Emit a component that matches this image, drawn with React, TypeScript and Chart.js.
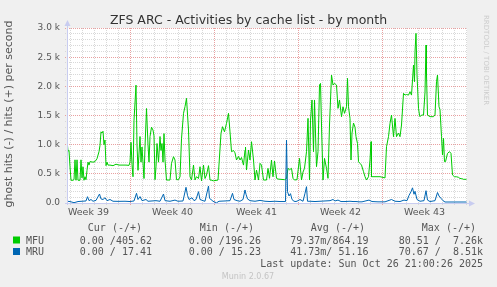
import React, { useEffect, useRef } from 'react';
import { Chart, registerables } from 'chart.js';

Chart.register(...registerables);

// ---------- data (x = hours since start of graph, 800 h span) ----------
const mfuHours = [0,2,4,6,8,12,14,16,18,20,22,26,28,30,32,34,36,38,40,42,44,46,52,56,60,64,66,68,70,72,74,76,78,80,82,86,92,98,104,110,118,124,126,128,130,132,134,138,140,142,146,148,150,154,156,159,162,164,166,169,172,174,176,178,180,183,186,188,190,192,194,196,199,206,209,213,216,219,223,226,229,233,236,239,243,246,249,253,256,259,263,266,269,273,276,279,283,286,289,293,302,308,311,315,319,323,326,329,333,336,339,343,346,349,353,356,357,359,363,366,369,373,376,379,383,386,389,393,399,402,405,409,412,415,419,422,435,439,442,445,449,452,455,460,465,469,472,475,479,482,485,487,490,493,495,499,502,505,507,509,512,515,519,522,525,529,532,535,539,542,545,549,552,555,559,561,563,566,568,570,573,576,578,581,583,586,589,593,596,599,603,606,608,609,616,626,636,639,643,646,649,653,656,659,663,666,669,673,676,679,683,686,689,693,695,696,698,700,703,705,706,709,713,716,718,719,721,726,733,736,739,741,744,746,749,751,753,755,757,761,765,768,771,775,779,783,786,789,793,799];
const mfuValues = [1080,890,900,620,390,390,400,740,390,740,390,390,740,430,620,390,450,400,560,700,650,710,700,710,760,880,990,1220,1200,1230,1000,1080,640,700,650,650,640,665,650,650,650,645,700,1040,660,450,1420,2020,1000,560,1140,700,960,420,960,1620,1000,700,1140,1300,1250,1150,400,620,1020,700,1140,900,1020,700,1190,737,394,394,680,794,737,400,400,450,1100,1537,1651,1794,1251,451,394,650,394,451,420,622,380,650,420,480,640,394,390,380,394,1194,1308,1220,1365,1537,1220,880,900,860,737,800,737,780,650,908,960,565,908,737,1051,737,394,565,394,680,650,394,394,594,423,737,450,720,423,410,400,420,595,570,595,423,394,400,765,394,530,595,880,1451,394,1420,1766,880,1766,622,880,2022,2050,1337,394,765,594,423,1337,2194,2022,2051,2022,1622,1766,1480,1650,1537,1650,2137,1650,1450,737,1200,1370,1300,1137,1020,708,680,650,537,451,394,451,737,1051,451,451,451,430,965,1137,1365,1508,1137,1450,1137,1200,1137,1337,1880,1850,1860,1850,1908,1850,2365,2080,2594,2908,2200,1623,1508,1480,1508,1508,1900,2708,2200,1508,1480,1480,1508,2080,2194,1650,1600,1137,822,1108,708,708,850,880,850,480,450,450,440,420,420,406,406];

const mruHours = [0,6,14,22,30,38,41,44,48,52,58,65,68,72,76,80,86,92,102,116,126,134,139,142,146,150,158,162,170,178,186,193,196,206,216,222,232,238,241,244,250,254,258,263,266,272,276,283,285,288,292,299,304,316,326,331,334,340,346,352,356,358,361,366,376,386,396,406,416,426,437,439,441,444,447,450,454,458,462,466,472,476,479,481,486,496,506,516,526,532,536,542,548,556,566,572,578,584,590,604,610,622,636,649,656,666,674,680,684,688,691,694,696,700,706,714,718,721,726,736,741,744,748,752,756,799];
const mruValues = [30,25,5,25,30,35,108,40,60,30,45,154,70,60,90,40,60,30,28,30,25,35,166,60,110,40,60,30,35,40,30,154,40,30,50,30,35,269,130,60,90,40,60,194,60,40,30,291,80,60,30,3,30,35,40,166,60,40,30,60,223,150,70,40,30,45,30,25,30,25,25,1080,194,120,160,60,30,25,40,60,30,166,280,30,30,25,30,35,40,60,35,50,25,25,30,25,25,20,20,50,25,20,20,60,30,25,50,40,130,194,260,150,200,60,30,40,211,50,25,40,180,120,80,40,17,17];

const weekTickHours = [43, 211, 379, 547, 715];
const weekLabels = ['Week 39', 'Week 40', 'Week 41', 'Week 42', 'Week 43'];
const weekStartHours = [127, 295, 463, 631];
const yTickValues = [0, 500, 1000, 1500, 2000, 2500, 3000];

const seriesNames = ['MFU', 'MRU'];
const seriesColors = ['#00cc00', '#0066b3'];
const legendHeaders = ['Cur (-/+)', 'Min (-/+)', 'Avg (-/+)', 'Max (-/+)'];
const legendRows = [
  ['0.00 /405.62', '0.00 /196.26', '79.37m/864.19', '80.51 /  7.26k'],
  ['0.00 / 17.41', '0.00 / 15.23', '41.73m/ 51.16', '70.67 /  8.51k'],
];
const titleText = 'ZFS ARC - Activities by cache list - by month';
const yTitle = 'ghost hits (-) / hits (+) per second';
const lastUpdate = 'Last update: Sun Oct 26 21:00:26 2025';
const footer = 'Munin 2.0.67';
const watermark = 'RRDTOOL / TOBI OETIKER';

const SANS = '"DejaVu Sans", sans-serif';
const MONO = '"DejaVu Sans Mono", monospace';

const muninPlugin = {
  id: 'munin',
  beforeDraw(chart: any) {
    const { ctx, chartArea: a } = chart;
    ctx.save();
    ctx.fillStyle = '#f0f0f0';
    ctx.fillRect(0, 0, chart.width, chart.height);
    ctx.fillStyle = '#ffffff';
    ctx.fillRect(a.left, a.top, a.right - a.left, a.bottom - a.top);
    ctx.restore();
  },
  beforeDatasetsDraw(chart: any) {
    const { ctx, chartArea: a, scales } = chart;
    const x = scales.x, y = scales.y;
    ctx.save();
    ctx.lineWidth = 1;
    const hline = (v: number, color: string) => {
      const py = Math.floor(y.getPixelForValue(v)) + 0.5;
      ctx.strokeStyle = color;
      ctx.setLineDash([1, 1]);
      ctx.beginPath();
      ctx.moveTo(a.left - 2, py);
      ctx.lineTo(a.right, py);
      ctx.stroke();
    };
    const vline = (v: number, color: string) => {
      const px = Math.floor(x.getPixelForValue(v)) + 0.5;
      ctx.strokeStyle = color;
      ctx.setLineDash([1, 1]);
      ctx.beginPath();
      ctx.moveTo(px, a.top);
      ctx.lineTo(px, a.bottom + 2);
      ctx.stroke();
    };
    for (let v = 100; v < 3000; v += 100) if (v % 500 !== 0) hline(v, '#d8d8d8');
    for (let h = 7; h < 800; h += 24) if (!weekStartHours.includes(h)) vline(h, '#d8d8d8');
    yTickValues.forEach(v => { if (v > 0) hline(v, '#e8a0a0'); });
    weekStartHours.forEach(h => vline(h, '#e8a0a0'));
    ctx.restore();
  },
  afterDatasetsDraw(chart: any) {
    const { ctx, chartArea: a } = chart;
    ctx.save();
    ctx.strokeStyle = '#c8ccf0';
    ctx.fillStyle = '#c8ccf0';
    ctx.lineWidth = 1;
    ctx.setLineDash([]);
    ctx.beginPath();
    ctx.moveTo(a.left + 0.5, a.bottom + 2);
    ctx.lineTo(a.left + 0.5, a.top - 4);
    ctx.moveTo(a.left - 2, a.bottom + 0.5);
    ctx.lineTo(a.right + 4, a.bottom + 0.5);
    ctx.stroke();
    ctx.beginPath();
    ctx.moveTo(a.left + 0.5, a.top - 8);
    ctx.lineTo(a.left - 2.5, a.top - 2);
    ctx.lineTo(a.left + 3.5, a.top - 2);
    ctx.closePath();
    ctx.fill();
    ctx.beginPath();
    ctx.moveTo(a.right + 8, a.bottom + 0.5);
    ctx.lineTo(a.right + 2, a.bottom - 2.5);
    ctx.lineTo(a.right + 2, a.bottom + 3.5);
    ctx.closePath();
    ctx.fill();
    ctx.restore();
  },
  afterDraw(chart: any) {
    const { ctx } = chart;
    ctx.save();
    // title
    ctx.fillStyle = '#333333';
    ctx.font = `12.5px ${SANS}`;
    ctx.textAlign = 'center';
    ctx.textBaseline = 'alphabetic';
    ctx.fillText(titleText, 248.5, 24);
    // y title
    ctx.save();
    ctx.translate(9, 114);
    ctx.rotate(-Math.PI / 2);
    ctx.font = `11px ${SANS}`;
    ctx.fillStyle = '#555555';
    ctx.textBaseline = 'middle';
    ctx.fillText(yTitle, 0, 0);
    ctx.restore();
    // watermark
    ctx.save();
    ctx.translate(486, 15);
    ctx.rotate(Math.PI / 2);
    ctx.font = `7px ${SANS}`;
    ctx.fillStyle = '#cccccc';
    ctx.textAlign = 'left';
    ctx.textBaseline = 'middle';
    ctx.fillText(watermark, 0, 0);
    ctx.restore();
    // legend
    ctx.font = `10px ${MONO}`;
    ctx.fillStyle = '#555555';
    ctx.textBaseline = 'alphabetic';
    const headerRight = [142, 254, 365, 476];
    const valueRight = [152, 261, 368.5, 483];
    ctx.textAlign = 'right';
    legendHeaders.forEach((h, i) => ctx.fillText(h, headerRight[i], 231));
    const rowY = [243.5, 255];
    seriesNames.forEach((name, r) => {
      ctx.fillStyle = seriesColors[r];
      ctx.fillRect(13, rowY[r] - 7, 7, 7);
      ctx.fillStyle = '#555555';
      ctx.textAlign = 'left';
      ctx.fillText(name, 26, rowY[r]);
      ctx.textAlign = 'right';
      legendRows[r].forEach((s, i) => ctx.fillText(s, valueRight[i], rowY[r]));
    });
    ctx.textAlign = 'right';
    ctx.fillText(lastUpdate, 483, 267);
    ctx.font = `8px ${SANS}`;
    ctx.fillStyle = '#c4c4c4';
    ctx.textAlign = 'center';
    ctx.fillText(footer, 248, 279);
    ctx.restore();
  },
};

export default function App() {
  const ref = useRef<HTMLCanvasElement>(null);
  useEffect(() => {
    const canvas = ref.current!;
    const chart = new Chart(canvas, {
      type: 'line',
      data: {
        datasets: [
          {
            label: seriesNames[0],
            data: mfuHours.map((h, i) => ({ x: h, y: mfuValues[i] })),
            borderColor: seriesColors[0],
            borderWidth: 1,
            pointRadius: 0,
            tension: 0,
            fill: false,
            order: 1,
          },
          {
            label: seriesNames[1],
            data: mruHours.map((h, i) => ({ x: h, y: mruValues[i] })),
            borderColor: seriesColors[1],
            borderWidth: 1,
            pointRadius: 0,
            tension: 0,
            fill: false,
            order: 0,
          },
        ],
      },
      options: {
        animation: false,
        responsive: false,
        devicePixelRatio: 1,
        layout: { padding: { left: 0, right: 30, top: 28, bottom: 0 } },
        plugins: { legend: { display: false }, title: { display: false }, tooltip: { enabled: false } },
        scales: {
          x: {
            type: 'linear',
            min: 0,
            max: 800,
            grid: { display: false, drawTicks: false },
            border: { display: false },
            afterBuildTicks: (scale: any) => {
              scale.ticks = weekTickHours.map(v => ({ value: v }));
            },
            afterFit: (scale: any) => { scale.height = 84; },
            ticks: {
              autoSkip: false,
              maxRotation: 0,
              minRotation: 0,
              padding: 4,
              color: '#555555',
              font: { family: SANS, size: 9.5 },
              callback: (_v: any, i: number) => weekLabels[i],
            },
          },
          y: {
            type: 'linear',
            min: 0,
            max: 3000,
            grid: { display: false, drawTicks: false },
            border: { display: false },
            afterBuildTicks: (scale: any) => {
              scale.ticks = yTickValues.map(v => ({ value: v }));
            },
            afterFit: (scale: any) => { scale.width = 67; },
            ticks: {
              autoSkip: false,
              padding: 7,
              color: '#555555',
              font: { family: SANS, size: 9 },
              callback: (v: any) => (v === 0 ? '0.0' : (v / 1000).toFixed(1) + ' k'),
            },
          },
        },
      },
      plugins: [muninPlugin],
    } as any);
    return () => chart.destroy();
  }, []);
  return (
    <div style={{ position: 'absolute', left: 0, top: 0, width: 497, height: 287, background: '#f0f0f0' }}>
      <canvas ref={ref} width={497} height={287} style={{ display: 'block', width: 497, height: 287 }} />
    </div>
  );
}
